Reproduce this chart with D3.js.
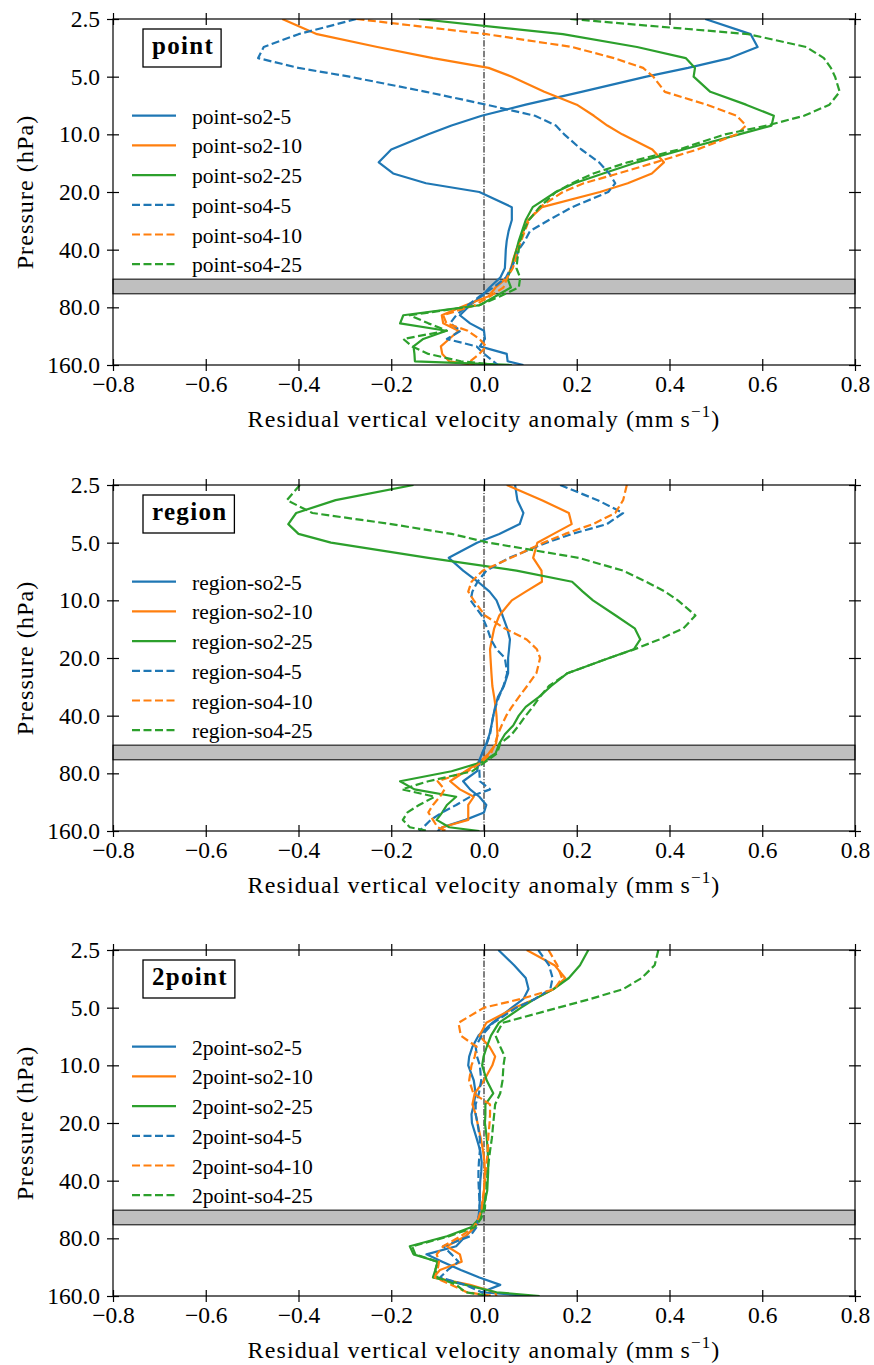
<!DOCTYPE html>
<html>
<head>
<meta charset="utf-8">
<script src="https://cdn.jsdelivr.net/npm/d3@7"></script>
<style>
  body { margin: 0; background: #fff; }
  text { font-family: "Liberation Serif", "Times New Roman", serif; fill: #000; }
</style>
</head>
<body>
<div id="chart"></div>
<script>
// pressure levels (hPa) shared by every profile
const levels = [2.5, 3, 3.5, 4, 4.5, 5, 6, 7, 8, 9, 10, 12, 14, 16, 18, 20, 24, 28, 32, 36,
  40, 45, 50, 56, 63, 70, 78, 88, 97, 106, 117, 128, 140, 153, 160];

const panelNames = ["point", "region", "2point"];
const runs = ["so2-5", "so2-10", "so2-25", "so4-5", "so4-10", "so4-25"];

// residual vertical velocity anomaly (mm/s), one value per level
const pointSo2_5 = [0.477, 0.575, 0.59, 0.53, 0.44, 0.35, 0.21, 0.09, -0.005, -0.07,
  -0.12, -0.20, -0.227, -0.196, -0.125, -0.01, 0.06, 0.06, 0.053, 0.049,
  0.047, 0.046, 0.045, 0.035, 0.012, -0.005, -0.03, -0.052, -0.03, 0.0,
  0.002, -0.009, 0.049, 0.051, 0.085];
const pointSo2_10 = [-0.435, -0.36, -0.23, -0.11, 0.01, 0.06, 0.13, 0.20, 0.237, 0.266,
  0.298, 0.363, 0.388, 0.362, 0.31, 0.25, 0.125, 0.095, 0.085, 0.077,
  0.07, 0.063, 0.058, 0.05, 0.025, 0.01, -0.04, -0.091, -0.088, -0.055,
  -0.075, -0.093, -0.09, -0.075, -0.02];
const pointSo2_25 = [-0.14, 0.17, 0.33, 0.435, 0.455, 0.452, 0.488, 0.565, 0.625, 0.62,
  0.55, 0.43, 0.33, 0.257, 0.195, 0.155, 0.105, 0.09, 0.082, 0.075,
  0.07, 0.064, 0.06, 0.05, 0.058, 0.025, -0.01, -0.174, -0.181, -0.081,
  -0.131, -0.152, -0.15, -0.149, 0.06];
const pointSo4_5 = [-0.275, -0.40, -0.475, -0.487, -0.40, -0.29, -0.125, 0.005, 0.11, 0.155,
  0.173, 0.21, 0.248, 0.27, 0.283, 0.268, 0.19, 0.14, 0.099, 0.088,
  0.075, 0.068, 0.058, 0.047, 0.02, -0.009, -0.035, -0.06, -0.073, -0.05,
  -0.08, -0.016, 0.0, 0.02, 0.03];
const pointSo4_10 = [-0.275, 0.005, 0.19, 0.28, 0.343, 0.365, 0.39, 0.48, 0.545, 0.565,
  0.545, 0.46, 0.37, 0.29, 0.215, 0.17, 0.12, 0.097, 0.088, 0.08,
  0.073, 0.068, 0.062, 0.05, 0.042, 0.013, -0.02, -0.088, -0.081, -0.035,
  -0.01, 0.005, -0.01, -0.03, -0.03];
const pointSo4_25 = [0.186, 0.57, 0.695, 0.733, 0.748, 0.757, 0.767, 0.745, 0.69, 0.61,
  0.52, 0.42, 0.31, 0.236, 0.19, 0.155, 0.12, 0.097, 0.085, 0.078,
  0.075, 0.072, 0.07, 0.078, 0.075, 0.035, -0.01, -0.16, -0.12, -0.08,
  -0.174, -0.155, -0.12, -0.05, 0.03];

const regionSo2_5 = [0.067, 0.072, 0.085, 0.077, 0.033, -0.015, -0.076, -0.045, -0.013, 0.012,
  0.027, 0.04, 0.05, 0.056, 0.054, 0.052, 0.052, 0.043, 0.03, 0.024,
  0.02, 0.016, 0.012, 0.005, -0.004, -0.012, -0.015, -0.045, -0.03, -0.01,
  0.005, 0.0, -0.04, -0.09, -0.1];
const regionSo2_10 = [0.049, 0.125, 0.183, 0.189, 0.15, 0.115, 0.106, 0.124, 0.125, 0.09,
  0.06, 0.033, 0.022, 0.017, 0.013, 0.014, 0.016, 0.018, 0.022, 0.025,
  0.027, 0.028, 0.029, 0.026, 0.01, -0.01, -0.04, -0.073, -0.052, -0.022,
  -0.034, -0.034, -0.034, -0.09, -0.088];
const regionSo2_25 = [-0.152, -0.32, -0.405, -0.422, -0.40, -0.33, -0.12, 0.07, 0.19, 0.213,
  0.235, 0.284, 0.325, 0.337, 0.323, 0.27, 0.18, 0.145, 0.118, 0.09,
  0.075, 0.063, 0.045, 0.033, 0.025, -0.005, -0.07, -0.181, -0.15, -0.06,
  -0.08, -0.09, -0.102, -0.075, -0.01];
const regionSo4_5 = [0.164, 0.245, 0.30, 0.265, 0.19, 0.135, 0.054, 0.005, -0.014, -0.025,
  -0.029, -0.005, 0.007, 0.015, 0.027, 0.045, 0.05, 0.042, 0.032, 0.025,
  0.02, 0.016, 0.013, 0.006, -0.004, -0.01, -0.01, -0.009, 0.013, -0.03,
  -0.06, -0.09, -0.115, -0.131, -0.14];
const regionSo4_10 = [0.308, 0.30, 0.283, 0.235, 0.175, 0.128, 0.058, -0.003, -0.027, -0.034,
  -0.022, 0.002, 0.044, 0.092, 0.114, 0.121, 0.113, 0.093, 0.075, 0.06,
  0.048, 0.038, 0.03, 0.024, 0.015, -0.005, -0.035, -0.1, -0.085, -0.095,
  -0.11, -0.12, -0.11, -0.1, -0.08];
const regionSo4_25 = [-0.397, -0.425, -0.37, -0.2, -0.07, 0.01, 0.204, 0.30, 0.35, 0.39,
  0.418, 0.456, 0.43, 0.378, 0.325, 0.27, 0.18, 0.14, 0.12, 0.105,
  0.09, 0.075, 0.06, 0.035, 0.028, 0.002, -0.025, -0.12, -0.177, -0.106,
  -0.14, -0.165, -0.175, -0.16, -0.12];

const twoPointSo2_5 = [0.031, 0.065, 0.09, 0.096, 0.085, 0.06, 0.018, -0.012, -0.025, -0.032,
  -0.034, -0.022, -0.018, -0.022, -0.027, -0.026, -0.016, -0.008, -0.005, -0.006,
  -0.008, -0.009, -0.009, -0.01, -0.012, -0.02, -0.04, -0.06, -0.124, -0.09,
  -0.05, -0.01, 0.035, -0.005, 0.1];
const twoPointSo2_10 = [0.092, 0.152, 0.175, 0.15, 0.11, 0.066, 0.005, -0.01, 0.012, 0.024,
  0.018, 0.0, -0.02, -0.025, -0.018, -0.014, -0.007, -0.002, 0.001, 0.002,
  0.001, 0.0, -0.002, -0.006, -0.01, -0.02, -0.04, -0.08, -0.052, -0.048,
  -0.095, -0.109, -0.03, 0.024, 0.027];
const twoPointSo2_25 = [0.225, 0.207, 0.183, 0.15, 0.11, 0.08, 0.032, 0.015, 0.006, -0.001,
  -0.004, 0.006, 0.02, 0.003, 0.003, 0.002, 0.006, 0.008, 0.009, 0.009,
  0.008, 0.007, 0.003, -0.002, -0.01, -0.028, -0.08, -0.16, -0.152, -0.1,
  -0.105, -0.11, -0.04, 0.027, 0.12];
const twoPointSo4_5 = [0.117, 0.14, 0.148, 0.143, 0.11, 0.07, 0.02, -0.005, -0.018, -0.015,
  -0.009, -0.006, -0.011, -0.018, -0.018, -0.014, -0.009, -0.009, -0.011, -0.012,
  -0.012, -0.011, -0.01, -0.009, -0.012, -0.016, -0.03, -0.088, -0.07, -0.055,
  -0.078, -0.095, -0.04, -0.005, 0.006];
const twoPointSo4_10 = [0.139, 0.158, 0.168, 0.152, 0.08, 0.0, -0.055, -0.05, -0.016, -0.02,
  -0.027, -0.032, -0.023, 0.013, 0.013, 0.012, 0.009, 0.008, 0.006, 0.004,
  0.002, 0.0, -0.003, -0.005, -0.012, -0.022, -0.05, -0.088, -0.102, -0.097,
  -0.1, -0.106, -0.07, -0.037, 0.02];
const twoPointSo4_25 = [0.376, 0.368, 0.34, 0.30, 0.23, 0.16, 0.04, 0.025, 0.035, 0.045,
  0.042, 0.04, 0.035, 0.024, 0.022, 0.02, 0.017, 0.013, 0.01, 0.008,
  0.006, 0.005, 0.003, 0.002, -0.006, -0.02, -0.075, -0.155, -0.148, -0.1,
  -0.105, -0.1, -0.06, -0.04, 0.013];

const panelSeries = [
  [pointSo2_5, pointSo2_10, pointSo2_25, pointSo4_5, pointSo4_10, pointSo4_25],
  [regionSo2_5, regionSo2_10, regionSo2_25, regionSo4_5, regionSo4_10, regionSo4_25],
  [twoPointSo2_5, twoPointSo2_10, twoPointSo2_25, twoPointSo4_5, twoPointSo4_10, twoPointSo4_25]
];

const xTicks = [-0.8, -0.6, -0.4, -0.2, 0.0, 0.2, 0.4, 0.6, 0.8];
const yTicks = [2.5, 5, 10, 20, 40, 80, 160];
const band = [57, 68]; // shaded pressure layer

const runColors = ["#1f77b4", "#ff7f0e", "#2ca02c", "#1f77b4", "#ff7f0e", "#2ca02c"];
const runDash = [null, null, null, "8,3.5", "8,3.5", "8,3.5"];

const width = 874, height = 1365;
const left = 113, right = 855, panelH = 346;
const panelTops = [19, 485, 950];

const svg = d3.select("#chart").append("svg")
  .attr("width", width)
  .attr("height", height);

const x = d3.scaleLinear().domain([-0.8, 0.8]).range([left, right]);
const fmt = d3.format(".1f");

// draws ticks that straddle the spine (half out, half in)
function inoutAxis(g, axisFn, scale, values, labels) {
  const outer = axisFn(scale).tickValues(values).tickSizeInner(6).tickSizeOuter(0).tickPadding(axisFn === d3.axisLeft ? 7 : 4);
  outer.tickFormat(labels ? fmt : () => "");
  g.append("g").call(outer);
  g.append("g").call(axisFn(scale).tickValues(values).tickSizeInner(-6).tickSizeOuter(0).tickFormat(() => ""));
  g.selectAll(".domain").remove();
  g.selectAll("line").attr("stroke", "#000").attr("stroke-width", 1.2);
  g.selectAll("text").attr("font-family", "Liberation Serif, serif").attr("font-size", 23.5).attr("fill", "#000");
}

panelNames.forEach(function (name, i) {
  const top = panelTops[i];
  const bottom = top + panelH;
  const y = d3.scaleLog().base(2).domain([2.5, 160]).range([top, bottom]);
  const g = svg.append("g");

  svg.append("clipPath").attr("id", "clip" + i)
    .append("rect")
    .attr("x", left).attr("y", top)
    .attr("width", right - left).attr("height", panelH);

  // shaded layer
  g.append("rect")
    .attr("x", left)
    .attr("y", y(band[0]))
    .attr("width", right - left)
    .attr("height", y(band[1]) - y(band[0]))
    .attr("fill", "#bfbfbf")
    .attr("stroke", "#000")
    .attr("stroke-width", 1);

  // zero line
  g.append("line")
    .attr("x1", x(0)).attr("x2", x(0))
    .attr("y1", top).attr("y2", bottom)
    .attr("stroke", "#000")
    .attr("stroke-width", 1)
    .attr("stroke-dasharray", "6.4,1.6,1,1.6");

  const line = d3.line()
    .x(d => x(d[1]))
    .y(d => y(d[0]));

  const lines = g.append("g").attr("clip-path", `url(#clip${i})`);
  panelSeries[i].forEach(function (vals, k) {
    lines.append("path")
      .datum(levels.map((p, j) => [p, vals[j]]))
      .attr("d", line)
      .attr("fill", "none")
      .attr("stroke", runColors[k])
      .attr("stroke-width", 2.2)
      .attr("stroke-linejoin", "round")
      .attr("stroke-dasharray", runDash[k]);
  });

  // axes on all four sides
  inoutAxis(g.append("g").attr("transform", `translate(${left},0)`), d3.axisLeft, y, yTicks, true);
  inoutAxis(g.append("g").attr("transform", `translate(${right},0)`), d3.axisRight, y, yTicks, false);
  inoutAxis(g.append("g").attr("transform", `translate(0,${bottom})`), d3.axisBottom, x, xTicks, true);
  inoutAxis(g.append("g").attr("transform", `translate(0,${top})`), d3.axisTop, x, xTicks, false);

  g.append("rect")
    .attr("x", left).attr("y", top)
    .attr("width", right - left).attr("height", panelH)
    .attr("fill", "none")
    .attr("stroke", "#000")
    .attr("stroke-width", 1.2);

  // axis titles
  const xl = g.append("text")
    .attr("x", (left + right) / 2)
    .attr("y", bottom + 62)
    .attr("text-anchor", "middle")
    .attr("font-size", 24)
    .attr("letter-spacing", 1.1);
  xl.append("tspan").text("Residual vertical velocity anomaly (mm\u2009s");
  xl.append("tspan").attr("font-size", 17).attr("dy", -10).text("\u22121");
  xl.append("tspan").attr("dy", 10).text(")");

  g.append("text")
    .attr("transform", `translate(33,${(top + bottom) / 2}) rotate(-90)`)
    .attr("text-anchor", "middle")
    .attr("font-size", 24)
    .attr("letter-spacing", 1.1)
    .text("Pressure (hPa)");

  // boxed panel name
  const tg = g.append("g");
  const box = tg.append("rect");
  const title = tg.append("text")
    .attr("x", left + 39)
    .attr("y", top + 35)
    .attr("font-size", 25)
    .attr("font-weight", "bold")
    .attr("letter-spacing", 1.3)
    .text(name);
  const tb = title.node().getBBox();
  box.attr("x", tb.x - 9)
    .attr("y", top + 10)
    .attr("width", tb.width + 16)
    .attr("height", 38)
    .attr("fill", "#fff")
    .attr("stroke", "#000")
    .attr("stroke-width", 1.3);

  // legend
  const leg = g.append("g");
  runs.forEach(function (run, k) {
    const ly = top + 96.7 + k * 29.7;
    leg.append("line")
      .attr("x1", 132).attr("x2", 176)
      .attr("y1", ly).attr("y2", ly)
      .attr("stroke", runColors[k])
      .attr("stroke-width", 2.2)
      .attr("stroke-dasharray", runDash[k]);
    leg.append("text")
      .attr("x", 192)
      .attr("y", ly + 8)
      .attr("font-size", 21.5)
      .text(name + "-" + run);
  });
});
</script>
</body>
</html>
